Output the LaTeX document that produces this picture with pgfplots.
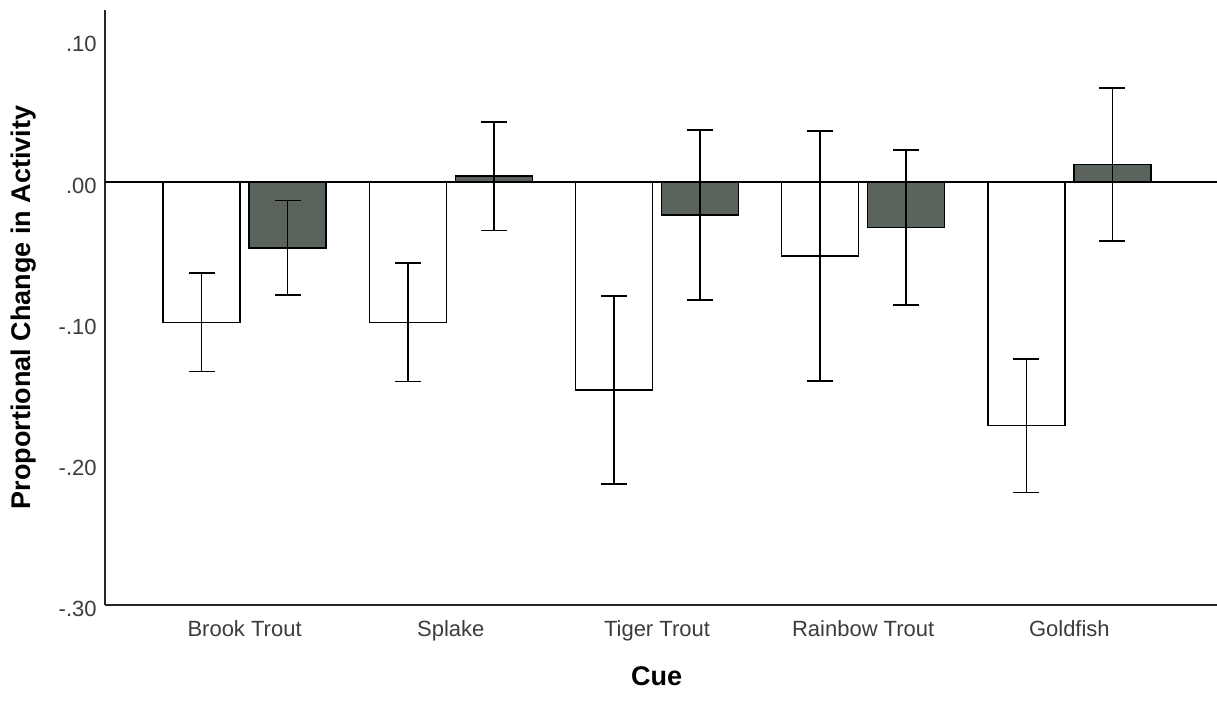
\documentclass[border=0pt]{standalone}
\usepackage{pgfplots}
\pgfplotsset{compat=1.18}
\usepackage{fontspec}
\setmainfont{Liberation Sans}
\definecolor{barDark}{RGB}{91,99,93}
\definecolor{tickgray}{RGB}{60,60,60}

\begin{document}
\begin{tikzpicture}
\useasboundingbox (-52.5pt,-51.5pt) rectangle (556pt,302.5pt);
\begin{axis}[
    at={(0,0)}, anchor=south west,
    scale only axis, width=556pt, height=297.5pt,
    ybar=4.5pt, bar width=38.5pt,
    xmin=-0.677, xmax=4.716,
    ymin=-0.30, ymax=0.1215,
    axis x line*=bottom, axis y line*=left,
    axis line style={-, line width=0.9pt, black!85},
    major tick length=0pt,
    xtick={0,1,2,3,4},
    xticklabels={Brook Trout,Splake,Tiger Trout,Rainbow Trout,Goldfish},
    ytick={-0.3,-0.2,-0.1,0,0.1},
    yticklabels={-.30,-.20,-.10,.00,.10},
    /pgf/number format/assume math mode=true,
    xticklabel style={font=\fontsize{11}{13}\selectfont, text=tickgray, anchor=base, yshift=-15.5pt},
    yticklabel style={font=\fontsize{11}{13}\selectfont, text=tickgray, anchor=east, inner sep=0pt, xshift=-4pt, yshift=-2pt},
    xlabel={\bfseries Cue},
    ylabel={\bfseries Proportional Change in Activity},
    every axis x label/.style={at={(axis description cs:0.496,-0.119)}, anchor=center, font=\fontsize{13.5}{16}\selectfont},
    every axis y label/.style={at={(axis description cs:-0.0728,0.5)}, rotate=90, anchor=center, font=\fontsize{13.5}{16}\selectfont},
    error bars/y dir=both, error bars/y explicit,
    error bars/error bar style={line width=0.8pt, black},
    error bars/error mark options={mark size=6.5pt, line width=0.8pt, black, rotate=90},
    clip=false,
]
% Gruppe 1 (weiss)
\addplot[fill=white, draw=black, line width=0.7pt]
coordinates {
    (0,-0.0997) +- (0,0.0350)
    (1,-0.0997) +- (0,0.0419)
    (2,-0.1477) +- (0,0.0667)
    (3,-0.0528) +- (0,0.0884)
    (4,-0.1730) +- (0,0.0474)
};
% Gruppe 2 (dunkel)
\addplot[fill=barDark, draw=black, line width=0.7pt]
coordinates {
    (0,-0.0470) +- (0,0.0335)
    (1,0.0038) +- (0,0.0385)
    (2,-0.0237) +- (0,0.0603)
    (3,-0.0325) +- (0,0.0548)
    (4,0.0122) +- (0,0.0542)
};
% Nulllinie
\draw[line width=1pt, black] (axis cs:-0.677,0) -- (axis cs:4.716,0);
\end{axis}
\end{tikzpicture}
\end{document}
